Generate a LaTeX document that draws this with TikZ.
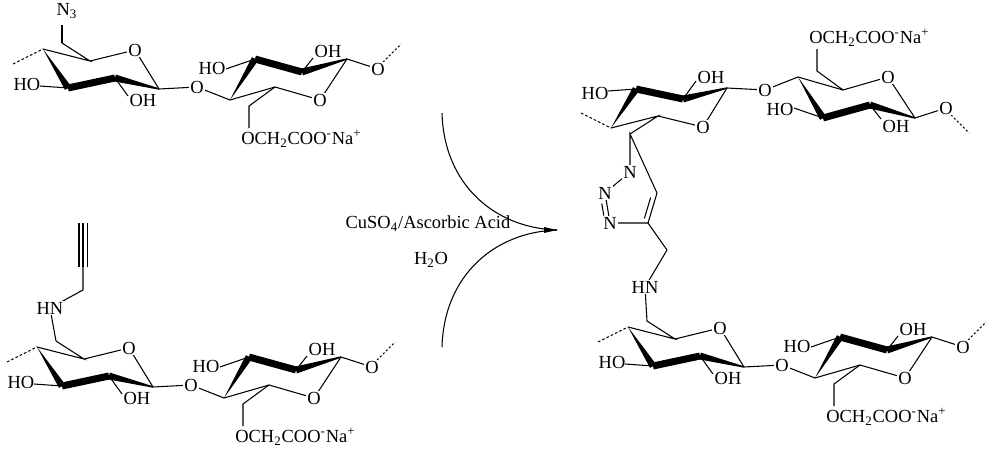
\documentclass[tikz,border=0pt]{standalone}
\usepackage{fontspec}
\setmainfont{Liberation Serif}
\usetikzlibrary{calc}
\newcommand{\lbl}{\fontsize{10.5}{12}\selectfont}
\tikzset{
 bond/.style={line width=0.6pt},
 lab/.style={fill=white,inner sep=0.6pt,font=\lbl},
 txt/.style={inner sep=0pt,font=\lbl},
 unit/.pic={
  \coordinate (-C4) at (43,49); \coordinate (-C5) at (90,61); \coordinate (-Oa) at (135,50);
  \coordinate (-C1) at (159,89); \coordinate (-C2) at (115,78); \coordinate (-C3) at (68,88);
  \coordinate (-C6) at (62,43); \coordinate (-Ol) at (197,87);
  \coordinate (-D4) at (230,100); \coordinate (-D3) at (255,59); \coordinate (-D2) at (302,72);
  \coordinate (-D1) at (347,59); \coordinate (-Ob) at (320,100); \coordinate (-D5) at (275,87);
  \coordinate (-D6) at (249,106); \coordinate (-Oe) at (378,69);
  \draw[bond] (-C6)--(-C5)--(-C4);
  \draw[bond] (-C5)--(-Oa)--(-C1)--(-Ol)--(-D4)--(-D5)--(-Ob)--(-D1)--(-Oe);
  \draw[bond] (-D5)--(-D6)--(249,128);
  \draw[bond,dash pattern=on 1.5pt off 1.2pt] (13,64)--(-C4);
  \draw[bond,dash pattern=on 1.2pt off 1.2pt] (383,62)--(401,44);
  \draw[bond] (-C3)--(40,86);
  \draw[bond] (-C2)--(128,96);
  \draw[bond] (-D3)--(226,69);
  \draw[bond] (-D2)--(313,58);
  \fill (-C4) -- ($(-C3)!2pt!90:(-C4)$) -- ($(-C3)!2pt!-90:(-C4)$) -- cycle;
  \fill ($(-C3)!2pt!90:(-C2)$) -- ($(-C3)!2pt!-90:(-C2)$) -- ($(-C2)!2pt!90:(-C3)$) -- ($(-C2)!2pt!-90:(-C3)$) -- cycle;
  \fill ($(-C2)!2pt!90:(-C1)$) -- ($(-C2)!2pt!-90:(-C1)$) -- ($(-C1)!0.4pt!90:(-C2)$) -- ($(-C1)!0.4pt!-90:(-C2)$) -- cycle;
  \fill (-D4) -- ($(-D3)!2pt!90:(-D4)$) -- ($(-D3)!2pt!-90:(-D4)$) -- cycle;
  \fill ($(-D3)!2pt!90:(-D2)$) -- ($(-D3)!2pt!-90:(-D2)$) -- ($(-D2)!2pt!90:(-D3)$) -- ($(-D2)!2pt!-90:(-D3)$) -- cycle;
  \fill ($(-D2)!2pt!90:(-D1)$) -- ($(-D2)!2pt!-90:(-D1)$) -- ($(-D1)!0.4pt!90:(-D2)$) -- ($(-D1)!0.4pt!-90:(-D2)$) -- cycle;
  \node[lab] at (-Oa) {O};
  \node[lab] at (-Ol) {O};
  \node[lab] at (-Ob) {O};
  \node[lab] at (-Oe) {O};
  \node[txt] at (27,84) {HO};
  \node[txt] at (143,100) {OH};
  \node[txt] at (212,68) {HO};
  \node[txt] at (328,51) {OH};
  \node[txt,anchor=west] at (241,139) {OCH\textsubscript{2}COO\textsuperscript{-}Na\textsuperscript{+}};
 }
}
\begin{document}
\begin{tikzpicture}[x=0.02cm,y=-0.02cm]
\useasboundingbox (0,0) rectangle (1000,453);
\pic (tl) at (0,0) {unit};
\coordinate (n3) at (62,25);
\draw[bond] (tl-C6) -- (n3);
\node[txt,anchor=south] (azide) at (67,19) {N\textsubscript{3}};
\pic (bl) at (-6,298) {unit};
\coordinate (blN) at (50,308);
\coordinate (blCH) at (83,290);
\coordinate (blT) at (83,267);
\draw[bond] (bl-C6) -- (blN) -- (blCH) -- (blT);
\draw[bond] (blT) -- ++(0,-44) (79,267) -- ++(0,-44) (87.5,267) -- ++(0,-44);
\node[lab] at (blN) {HN};
\pic (br) at (585,278) {unit};
\pic[yscale=-1] (tr) at (568,177) {unit};
\coordinate (N1) at (630,172); \coordinate (N2) at (605,193); \coordinate (N3) at (610,223);
\coordinate (C4t) at (648,223); \coordinate (C5t) at (657,193);
\coordinate (ch2) at (667,250); \coordinate (hn) at (645,287);
\draw[bond] (tr-C6) -- (N1) -- (N2) -- (N3) -- (C4t) -- (C5t) -- cycle;
\draw[bond] ($(N2)!0.35!(N3)+(-5,0)$) -- ($(N3)!0.25!(N2)+(-5,0)$);
\draw[bond] ($(C4t)!0.15!(C5t)+(-5,0)$) -- ($(C5t)!0.15!(C4t)+(-5,0)$);
\draw[bond] (C4t) -- (ch2) -- (hn) -- (br-C6);
\node[lab] at (N1) {N};
\node[lab] at (N2) {N};
\node[lab] at (N3) {N};
\node[lab] at (hn) {HN};
\coordinate (a1) at (442,113); \coordinate (a2) at (442,347); \coordinate (tip) at (557,230);
\draw[bond] (a1) .. controls (444,185) and (495,228) .. (tip);
\draw[bond] (a2) .. controls (444,275) and (495,232) .. (tip);
\fill (tip) -- ++(-13,-3) -- ++(0,6) -- cycle;
\node[txt] (cond) at (428,224) {CuSO\textsubscript{4}/Ascorbic Acid};
\node[txt] (water) at (431,260) {H\textsubscript{2}O};
\end{tikzpicture}
\end{document}
